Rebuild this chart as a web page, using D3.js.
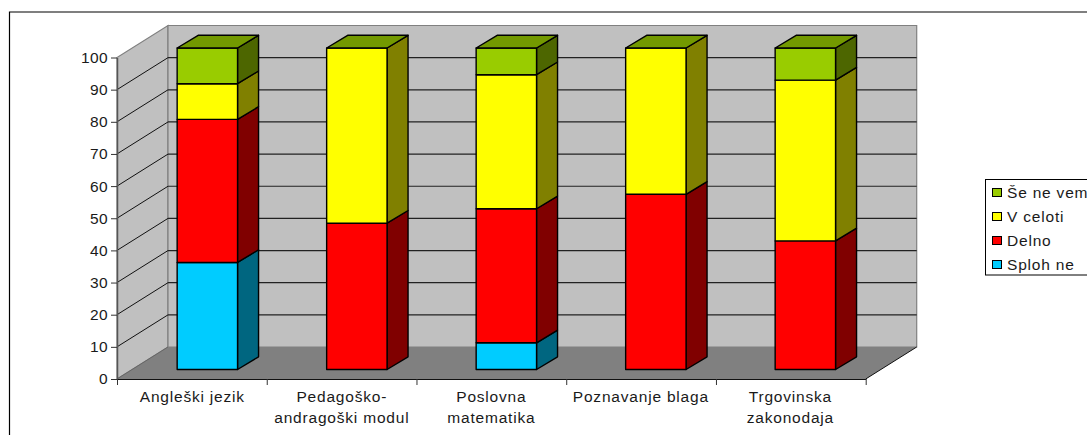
<!DOCTYPE html>
<html>
<head>
<meta charset="utf-8">
<script src="https://cdn.jsdelivr.net/npm/d3@7"></script>
<style>
    html, body { margin: 0; padding: 0; background: #fff; overflow: hidden; }
    text { font-family: "Liberation Sans", Arial, sans-serif; font-size: 15.5px; letter-spacing: 0.8px; fill: #1a1a1a; }
</style>
</head>
<body>
<svg id="chart"></svg>
<script>
const categories = ["Angleški jezik", "Pedagoško-\nandragoški modul", "Poslovna\nmatematika", "Poznavanje blaga", "Trgovinska\nzakonodaja"];
const seriesNames = ["Sploh ne", "Delno", "V celoti", "Še ne vem"];
const splohNe = [33.3, 0, 8.3, 0, 0];
const delno = [44.5, 45.5, 41.7, 54.5, 40];
const vCeloti = [11.1, 54.5, 41.7, 45.5, 50];
const seNeVem = [11.1, 0, 8.3, 0, 10];
const yTicks = [0, 10, 20, 30, 40, 50, 60, 70, 80, 90, 100];

const frontColors = ["#00ccff", "#ff0000", "#ffff00", "#99cc00"];
const sideColors = ["#006680", "#800000", "#808000", "#4d6600"];
const topColor = "#739900";

const width = 1087, height = 435;
const svg = d3.select("#chart").attr("width", width).attr("height", height);

// Outer chart frame, only top and left are inside the picture
svg.append("path")
   .attr("d", "M9.5,435V12H1087")
   .attr("fill", "none")
   .attr("stroke", "#000")
   .attr("stroke-width", 1.2);

// Front plane scales
const x0 = 117, x1 = 865.7;
const y = d3.scaleLinear().domain([0, 100]).range([379, 57.5]);
const wallDx = 51, wallDy = -32;
const barDx = 21, barDy = -12.7;
const barBase = 369.5;
const pxPerUnit = (y(0) - y(100)) / 100;

// Bars sit a little into the floor, so the band scale is shifted from the axis
const xBand = d3.scaleBand()
    .domain(categories)
    .range([x0 + 15, x1 + 15])
    .paddingInner(0.596)
    .paddingOuter(0.302);

const poly = pts => "M" + pts.map(p => p.join(",")).join("L") + "Z";

// Walls and floor
svg.append("path")
   .attr("d", poly([[x0, y(0)], [x0 + wallDx, y(0) + wallDy], [x0 + wallDx, y(100) + wallDy], [x0, y(100)]]))
   .attr("fill", "#c0c0c0").attr("stroke", "#808080").attr("stroke-width", 1.2);
svg.append("path")
   .attr("d", poly([[x0 + wallDx, y(0) + wallDy], [x1 + wallDx, y(0) + wallDy], [x1 + wallDx, y(100) + wallDy], [x0 + wallDx, y(100) + wallDy]]))
   .attr("fill", "#c0c0c0").attr("stroke", "#808080").attr("stroke-width", 1.2);
svg.append("path")
   .attr("d", poly([[x0, y(0)], [x1, y(0)], [x1 + wallDx, y(0) + wallDy], [x0 + wallDx, y(0) + wallDy]]))
   .attr("fill", "#808080").attr("stroke", "none");

// Gridlines on both walls
const gridTicks = yTicks.filter(d => d > 0 && d < 100);
svg.selectAll(".grid-side")
   .data(gridTicks)
   .enter()
   .append("line")
   .attr("class", "grid-side")
   .attr("x1", x0).attr("y1", d => y(d))
   .attr("x2", x0 + wallDx).attr("y2", d => y(d) + wallDy)
   .attr("stroke", "#111").attr("stroke-width", 1);
svg.selectAll(".grid-back")
   .data(gridTicks)
   .enter()
   .append("line")
   .attr("class", "grid-back")
   .attr("x1", x0 + wallDx).attr("y1", d => y(d) + wallDy)
   .attr("x2", x1 + wallDx).attr("y2", d => y(d) + wallDy)
   .attr("stroke", "#222").attr("stroke-width", 1.2);

// Floor edges
svg.append("line")
   .attr("x1", x0).attr("y1", y(0)).attr("x2", x0 + wallDx).attr("y2", y(0) + wallDy)
   .attr("stroke", "#666").attr("stroke-width", 1);
svg.append("line")
   .attr("x1", x1).attr("y1", y(0)).attr("x2", x1 + wallDx).attr("y2", y(0) + wallDy)
   .attr("stroke", "#111").attr("stroke-width", 1);

// Axes
const yAxis = svg.append("g")
   .attr("transform", `translate(${x0},0)`)
   .call(d3.axisLeft(y).tickValues(yTicks).tickSize(6).tickSizeOuter(0).tickPadding(3).tickFormat(d3.format("d")));
yAxis.select(".domain").attr("stroke", "#555").attr("stroke-width", 1.5);
yAxis.selectAll("line").attr("stroke", "#333");
yAxis.selectAll("text")
     .style("font-size", "15.5px")
     .style("font-family", '"Liberation Sans", Arial, sans-serif')
     .style("letter-spacing", "0.4px")
     .attr("fill", "#1a1a1a");

const boundaries = d3.range(categories.length + 1);
const xEdge = d3.scaleLinear().domain([0, categories.length]).range([x0, x1]);
const xAxis = svg.append("g")
   .attr("transform", `translate(0,${y(0)})`)
   .call(d3.axisBottom(xEdge).tickValues(boundaries).tickSize(6).tickSizeOuter(0).tickFormat(""));
xAxis.select(".domain").attr("stroke", "#111").attr("stroke-width", 1.2);
xAxis.selectAll("line").attr("stroke", "#333");

// Stacked 3D bars
const table = categories.map((c, i) => ({
    category: c,
    "Sploh ne": splohNe[i],
    "Delno": delno[i],
    "V celoti": vCeloti[i],
    "Še ne vem": seNeVem[i]
}));
const stacked = d3.stack().keys(seriesNames)(table);

const barStroke = g => g.attr("stroke", "#000").attr("stroke-width", 1.4).attr("stroke-linejoin", "round");
const barY = v => barBase - v * pxPerUnit;

categories.forEach((c, i) => {
    const left = xBand(c), right = left + xBand.bandwidth();
    const bar = svg.append("g").attr("class", "bar");
    stacked.forEach((s, k) => {
        const [v0, v1] = s[i];
        if (v1 - v0 <= 0) return;
        bar.append("path")
           .attr("d", poly([[right, barY(v0)], [right + barDx, barY(v0) + barDy], [right + barDx, barY(v1) + barDy], [right, barY(v1)]]))
           .attr("fill", sideColors[k]).call(barStroke);
        bar.append("path")
           .attr("d", poly([[left, barY(v0)], [right, barY(v0)], [right, barY(v1)], [left, barY(v1)]]))
           .attr("fill", frontColors[k]).call(barStroke);
    });
    const total = stacked[stacked.length - 1][i][1];
    bar.append("path")
       .attr("d", poly([[left, barY(total)], [right, barY(total)], [right + barDx, barY(total) + barDy], [left + barDx, barY(total) + barDy]]))
       .attr("fill", topColor).call(barStroke);
});

// Category labels
categories.forEach(c => {
    const label = svg.append("text")
       .attr("text-anchor", "middle")
       .attr("y", 402);
    c.split("\n").forEach((line, j) => {
        label.append("tspan")
           .attr("x", xBand(c) + xBand.bandwidth() / 2 - 15)
           .attr("dy", j === 0 ? 0 : 20.5)
           .text(line);
    });
});

// Legend, runs off the right side of the page
const legendY = d3.scalePoint().domain(seriesNames.slice().reverse()).range([192.5, 264.5]);
svg.append("rect")
   .attr("x", 985.5).attr("y", 179.5).attr("width", 120).attr("height", 95.5)
   .attr("fill", "#fff").attr("stroke", "#000").attr("stroke-width", 1);
svg.selectAll(".legend-box")
   .data(seriesNames)
   .enter()
   .append("rect")
   .attr("class", "legend-box")
   .attr("x", 992.5)
   .attr("y", d => legendY(d) - 4)
   .attr("width", 9)
   .attr("height", 8)
   .attr("fill", (d, i) => frontColors[i])
   .attr("stroke", "#000");
svg.selectAll(".legend-label")
   .data(seriesNames)
   .enter()
   .append("text")
   .attr("class", "legend-label")
   .attr("x", 1007)
   .attr("y", d => legendY(d) + 5)
   .text(d => d);
</script>
</body>
</html>
